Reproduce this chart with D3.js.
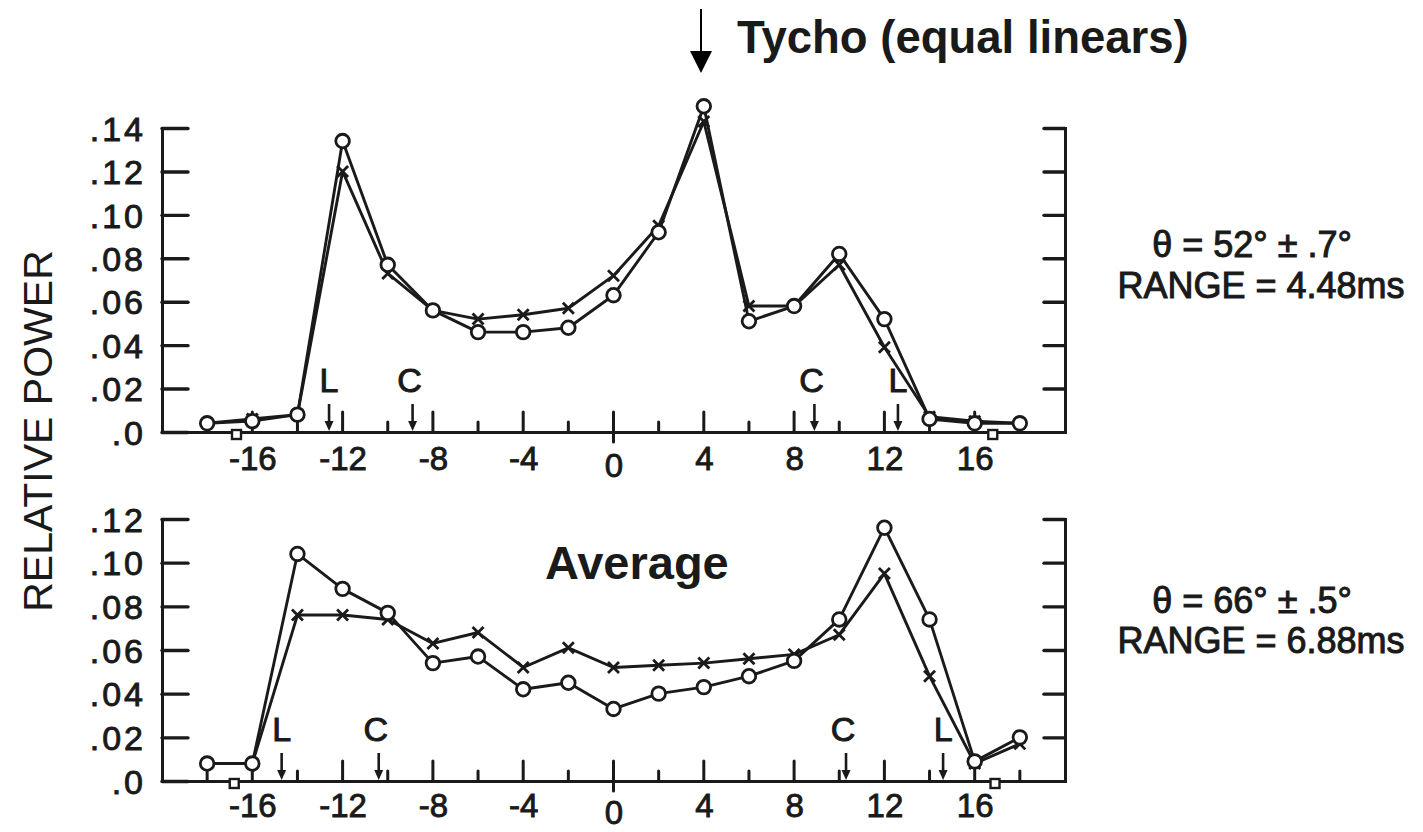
<!DOCTYPE html>
<html>
<head>
<meta charset="utf-8">
<script src="https://cdn.jsdelivr.net/npm/d3@7"></script>
<style>
  body { margin: 0; background: #fff; }
  svg { display: block; }
  text { fill: #1a1a1a; }
</style>
</head>
<body>
<svg id="chart" width="1423" height="832"></svg>
<script>
// Beam offsets (degrees) at which relative power was measured
const offsets = [-18, -16, -14, -12, -10, -8, -6, -4, -2, 0, 2, 4, 6, 8, 10, 12, 14, 16, 18];

// Upper panel: Tycho, theta = 52 deg
const topCircles = [0.004, 0.005, 0.008, 0.134, 0.077, 0.056, 0.046, 0.046, 0.048, 0.063, 0.092, 0.150, 0.051, 0.058, 0.082, 0.052, 0.006, 0.004, 0.004];
const topCrosses = [0.004, 0.006, 0.008, 0.120, 0.073, 0.056, 0.052, 0.054, 0.057, 0.072, 0.095, 0.143, 0.058, 0.058, 0.077, 0.039, 0.007, 0.005, 0.004];

// Lower panel: average, theta = 66 deg
const bottomCircles = [0.008, 0.008, 0.104, 0.088, 0.077, 0.054, 0.057, 0.042, 0.045, 0.033, 0.040, 0.043, 0.048, 0.055, 0.074, 0.116, 0.074, 0.009, 0.020];
const bottomCrosses = [0.008, 0.008, 0.076, 0.076, 0.074, 0.063, 0.068, 0.052, 0.061, 0.052, 0.053, 0.054, 0.056, 0.058, 0.067, 0.095, 0.048, 0.008, 0.017];

// Axis ticks
const xTickLabels = [-16, -12, -8, -4, 0, 4, 8, 12, 16];
const topYTicks = [0, 0.02, 0.04, 0.06, 0.08, 0.10, 0.12, 0.14];
const bottomYTicks = [0, 0.02, 0.04, 0.06, 0.08, 0.10, 0.12];

// Limb (L) and center (C) positions marked with arrows
const markerLabels = ["L", "C", "C", "L"];
const topMarkerX = [-12.6, -8.9, 8.9, 12.6];
const bottomMarkerX = [-14.7, -10.4, 10.3, 14.6];

// Small square markers sitting on the baseline
const topSquareX = [-16.7, 16.8];
const bottomSquareX = [-16.8, 16.9];

// Side notes
const topNotes = ["\u03b8 = 52\u00b0 \u00b1 .7\u00b0", "RANGE = 4.48ms"];
const bottomNotes = ["\u03b8 = 66\u00b0 \u00b1 .5\u00b0", "RANGE = 6.88ms"];

const ink = "#1a1a1a";
const font = "'Liberation Sans', Arial, sans-serif";
const svg = d3.select("#chart");

const x = d3.scaleLinear().domain([-20, 20]).range([162, 1065]);

const yFmt = v => v === 0 ? ".0" : d3.format(".2f")(v).replace(/^0/, "");

function drawPanel(cfg) {
  const y = d3.scaleLinear().domain([0, cfg.yMax]).range([cfg.bottom, cfg.top]);
  const g = svg.append("g");
  const base = y(0);

  // left axis, ticks pointing inward
  const left = g.append("g")
    .attr("transform", `translate(${x.range()[0]},0)`)
    .call(d3.axisLeft(y).tickValues(cfg.yTicks).tickSize(-26).tickPadding(16).tickFormat(yFmt));
  // right axis, unlabelled
  const right = g.append("g")
    .attr("transform", `translate(${x.range()[1]},0)`)
    .call(d3.axisRight(y).tickValues(cfg.yTicks.filter(v => v > 0)).tickSize(-21).tickFormat(""));
  [left, right].forEach(a => {
    a.selectAll("path.domain").attr("stroke", ink).attr("stroke-width", 3);
    a.selectAll(".tick line").attr("stroke", ink).attr("stroke-width", 3.4).attr("stroke-linecap", "round");
  });
  left.selectAll(".tick text")
    .attr("font-family", font)
    .attr("font-size", 34).attr("letter-spacing", 3).attr("fill", ink)
    .attr("stroke", ink).attr("stroke-width", 0.9)
    .attr("dy", "0.36em");

  // bottom axis: baseline and labels
  const bottomAxis = g.append("g")
    .attr("transform", `translate(0,${base})`)
    .call(d3.axisBottom(x).tickValues(xTickLabels).tickSize(0).tickPadding(0).tickFormat(d => String(d)));
  bottomAxis.select("path.domain").attr("stroke", ink).attr("stroke-width", 3);
  bottomAxis.selectAll(".tick text")
    .attr("font-family", font)
    .attr("font-size", 33).attr("fill", ink)
    .attr("stroke", ink).attr("stroke-width", 0.9)
    .attr("y", d => d === 0 ? cfg.zeroLabelDy : cfg.labelDy)
    .attr("dy", null);

  // upward tick marks at every measured offset
  g.selectAll("line.xtick").data(offsets).join("line")
    .attr("class", "xtick")
    .attr("x1", d => x(d)).attr("x2", d => x(d))
    .attr("y1", d => d === 0 ? base + 10 : base)
    .attr("y2", d => base - (d % 4 === 0 ? 20 : 10))
    .attr("stroke", ink).attr("stroke-width", 3).attr("stroke-linecap", "round");

  // L / C arrows
  const marks = g.selectAll("g.mark").data(cfg.markerX).join("g")
    .attr("class", "mark")
    .attr("transform", d => `translate(${x(d)},${base})`);
  marks.append("line").attr("x1", 0).attr("x2", 0).attr("y1", -28).attr("y2", -6)
    .attr("stroke", ink).attr("stroke-width", 2.6);
  marks.append("path").attr("d", "M-4.5,-11L4.5,-11L0,-1Z").attr("fill", ink);
  marks.append("text").attr("y", -40).attr("x", (d, i) => markerLabels[i] === "C" ? -3 : 0)
    .attr("text-anchor", "middle")
    .attr("font-family", font)
    .attr("font-size", 34).attr("stroke", ink).attr("stroke-width", 1)
    .text((d, i) => markerLabels[i]);

  // small squares on the baseline
  g.selectAll("rect.sq").data(cfg.squareX).join("rect")
    .attr("class", "sq")
    .attr("x", d => x(d) - 4.5).attr("y", base - 2).attr("width", 9).attr("height", 9)
    .attr("fill", "#fff").attr("stroke", ink).attr("stroke-width", 2.4);

  // series lines
  const line = vals => d3.line().x((d, i) => x(offsets[i])).y(d => y(d))(vals);
  [cfg.crosses, cfg.circles].forEach(vals => {
    g.append("path").attr("d", line(vals))
      .attr("fill", "none").attr("stroke", ink).attr("stroke-width", 2.9)
      .attr("stroke-linejoin", "round");
  });

  // cross markers
  g.selectAll("path.cross").data(cfg.crosses).join("path")
    .attr("class", "cross")
    .attr("transform", (d, i) => `translate(${x(offsets[i])},${y(d)})`)
    .attr("d", "M-5.5,-5.5L5.5,5.5M-5.5,5.5L5.5,-5.5")
    .attr("stroke", ink).attr("stroke-width", 2.8).attr("fill", "none");

  // circle markers
  g.selectAll("circle.pt").data(cfg.circles).join("circle")
    .attr("class", "pt")
    .attr("cx", (d, i) => x(offsets[i])).attr("cy", d => y(d)).attr("r", 6.8)
    .attr("fill", "#fff").attr("stroke", ink).attr("stroke-width", 2.8);

  // side notes
  svg.append("g").selectAll("text").data(cfg.notes).join("text")
    .attr("x", (d, i) => i === 0 ? 1252 : 1261)
    .attr("y", (d, i) => cfg.noteY[i])
    .attr("text-anchor", "middle")
    .attr("font-family", font)
    .attr("font-size", 36).attr("stroke", ink).attr("stroke-width", 1)
    .text(d => d);
}

drawPanel({
  yMax: 0.14, top: 128, bottom: 432, yTicks: topYTicks,
  circles: topCircles, crosses: topCrosses,
  markerX: topMarkerX, squareX: topSquareX,
  notes: topNotes, noteY: [257, 298],
  labelDy: 38, zeroLabelDy: 45
});

drawPanel({
  yMax: 0.12, top: 519, bottom: 781, yTicks: bottomYTicks,
  circles: bottomCircles, crosses: bottomCrosses,
  markerX: bottomMarkerX, squareX: bottomSquareX,
  notes: bottomNotes, noteY: [613, 653],
  labelDy: 36, zeroLabelDy: 43
});

// shared y-axis title
svg.append("text")
  .attr("transform", "translate(52,431) rotate(-90)")
  .attr("text-anchor", "middle")
  .attr("font-family", font)
  .attr("font-size", 41)
  .text("RELATIVE POWER");

// panel captions
svg.append("text")
  .attr("x", 545).attr("y", 579)
  .attr("font-family", font)
  .attr("font-weight", "bold").attr("font-size", 47).attr("fill", "#000")
  .text("Average");

svg.append("text")
  .attr("x", 737).attr("y", 53)
  .attr("font-family", font)
  .attr("font-weight", "bold").attr("font-size", 45.5).attr("fill", "#000")
  .text("Tycho (equal linears)");

// arrow above the 4 degree peak
svg.append("line").attr("x1", 701).attr("x2", 701).attr("y1", 9).attr("y2", 55)
  .attr("stroke", "#000").attr("stroke-width", 2);
svg.append("path").attr("d", "M690,51L712,51L701,73Z").attr("fill", "#000");
</script>
</body>
</html>
